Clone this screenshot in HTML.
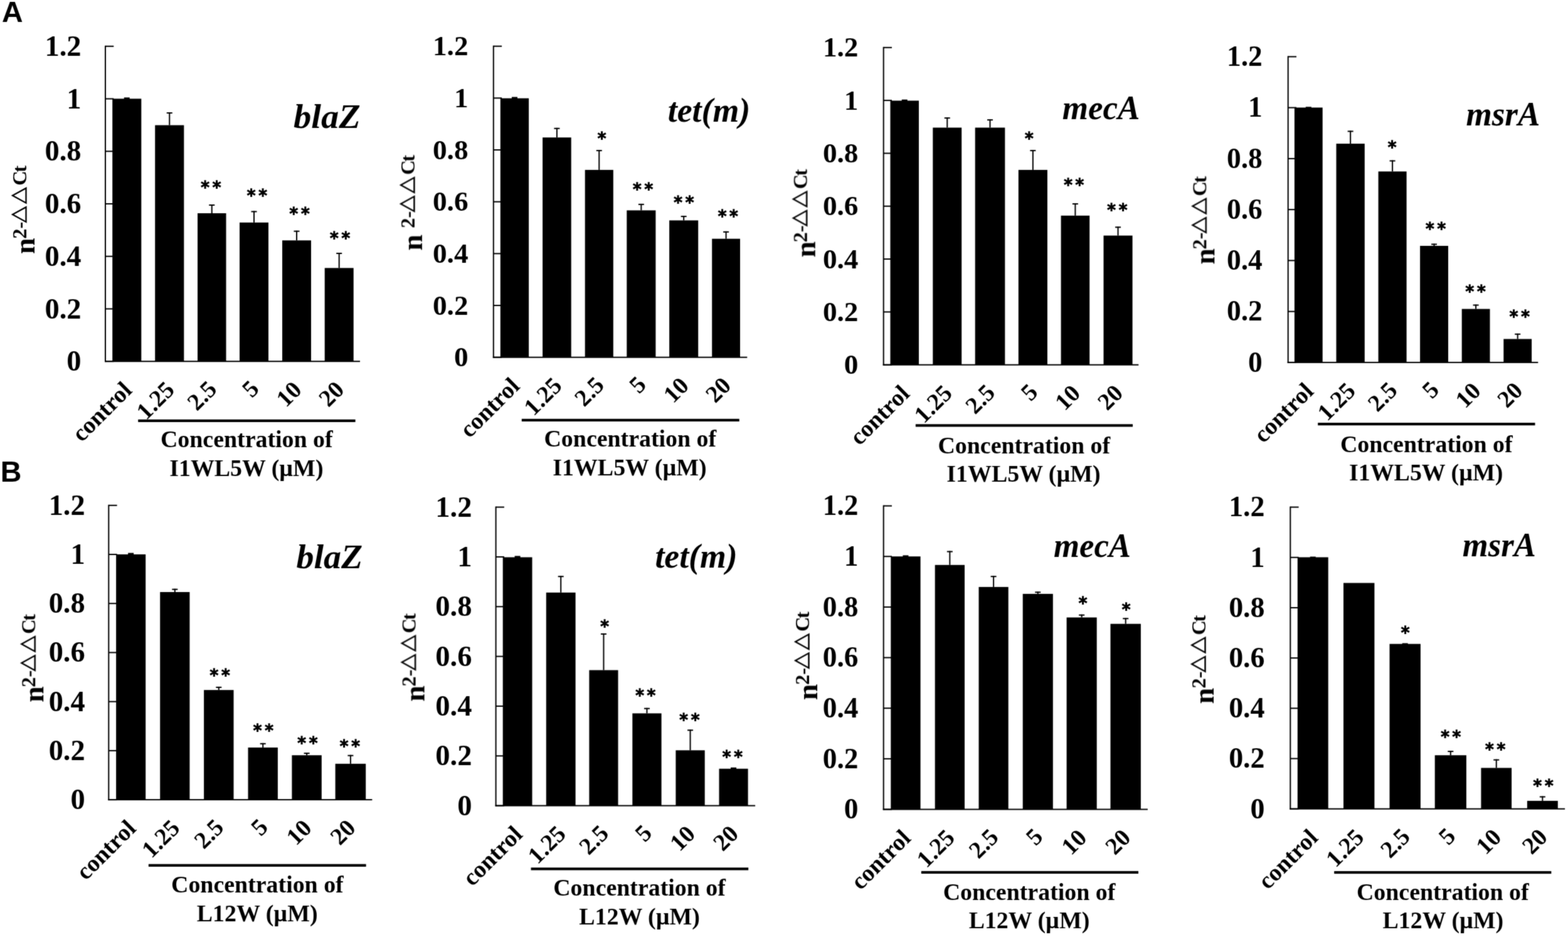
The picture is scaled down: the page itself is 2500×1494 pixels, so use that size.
<!DOCTYPE html>
<html><head><meta charset="utf-8"><title>Figure</title><style>
html,body{margin:0;padding:0;background:#fff;}
svg{display:block;}
text{font-family:'Liberation Serif','Times New Roman',serif;font-weight:bold;fill:#000;}
.tl{font-size:46px;text-anchor:end;}
.gn{font-size:54px;font-style:italic;}
.as{font-family:'DejaVu Sans',sans-serif;font-weight:normal;font-size:27.3px;letter-spacing:4.8px;stroke:#000;stroke-width:1.5px;text-anchor:middle;}
.xl{font-size:38.2px;text-anchor:end;}
.bl{font-size:37.9px;text-anchor:middle;}
.yl{font-size:46px;}
.sp{font-size:32.5px;}
.tri{font-family:'Liberation Serif','Noto Sans CJK JP',sans-serif;font-weight:normal;font-size:27px;letter-spacing:3.2px;stroke:#000;stroke-width:1.35px;}
.pl{font-family:'Liberation Sans',Arial,sans-serif;font-weight:bold;font-size:46.5px;}
</style></head>
<body>
<svg width="2500" height="1494" viewBox="0 0 2500 1494">
<defs><filter id="soft" x="0" y="0" width="2500" height="1494" filterUnits="userSpaceOnUse"><feConvolveMatrix order="3" kernelMatrix="0.25 1 0.25 1 4 1 0.25 1 0.25" edgeMode="none"/></filter></defs>
<rect width="2500" height="1494" fill="#fff"/>
<g filter="url(#soft)">
<text x="3.05" y="35.1" class="pl">A</text>
<text x="0.8" y="768.2" class="pl">B</text>
<g fill="#000">
<rect x="179.2" y="157.4" width="46.1" height="418.8"/>
<rect x="197.75" y="155.4" width="9" height="2.5"/>
<rect x="247.2" y="199.6" width="46.1" height="376.6"/>
<rect x="269.25" y="179.1" width="2" height="20.5"/>
<rect x="265.75" y="179.1" width="9" height="2"/>
<rect x="315" y="340" width="45.5" height="236.2"/>
<rect x="336.75" y="326" width="2" height="14"/>
<rect x="333.25" y="326" width="9" height="2"/>
<rect x="382" y="354.8" width="46" height="221.4"/>
<rect x="404" y="336.4" width="2" height="18.4"/>
<rect x="400.5" y="336.4" width="9" height="2"/>
<rect x="450" y="383.3" width="46" height="192.9"/>
<rect x="472" y="367.7" width="2" height="15.6"/>
<rect x="468.5" y="367.7" width="9" height="2"/>
<rect x="517.7" y="427.3" width="46" height="148.9"/>
<rect x="539.7" y="403" width="2" height="24.3"/>
<rect x="536.2" y="403" width="9" height="2"/>
<rect x="167" y="72.8" width="2" height="504.4"/>
<rect x="167" y="575.2" width="407" height="2"/>
<rect x="168" y="575.2" width="13.3" height="2"/>
<rect x="168" y="491.47" width="13.3" height="2"/>
<rect x="168" y="407.73" width="13.3" height="2"/>
<rect x="168" y="324" width="13.3" height="2"/>
<rect x="168" y="240.27" width="13.3" height="2"/>
<rect x="168" y="156.53" width="13.3" height="2"/>
<rect x="168" y="72.8" width="13.3" height="2"/>
<text x="129.5" y="591.27" class="tl" style="font-size:46.5px">0</text>
<text x="129.5" y="507.53" class="tl" style="font-size:46.5px">0.2</text>
<text x="129.5" y="423.8" class="tl" style="font-size:46.5px">0.4</text>
<text x="129.5" y="340.07" class="tl" style="font-size:46.5px">0.6</text>
<text x="129.5" y="256.33" class="tl" style="font-size:46.5px">0.8</text>
<text x="129.5" y="172.6" class="tl" style="font-size:46.5px">1</text>
<text x="129.5" y="88.87" class="tl" style="font-size:46.5px">1.2</text>
<text transform="translate(467.97,203.8) scale(1.0460,1)" class="gn" style="font-size:54px">blaZ</text>
<text x="338.8" y="308.06" class="as">**</text>
<text x="412.3" y="320.66" class="as">**</text>
<text x="479.9" y="350.06" class="as">**</text>
<text x="544.5" y="389.06" class="as">**</text>
<text transform="translate(212.25,624.2) rotate(-45)" class="xl">control</text>
<text transform="translate(280.25,623.7) rotate(-45)" class="xl">1.25</text>
<text transform="translate(347.75,622.7) rotate(-45)" class="xl">2.5</text>
<text transform="translate(415,622) rotate(-45)" class="xl">5</text>
<text transform="translate(483,623.7) rotate(-45)" class="xl">10</text>
<text transform="translate(550.7,623.4) rotate(-45)" class="xl">20</text>
<rect x="220.2" y="668.8" width="346.4" height="4.2"/>
<text x="393.3" y="713.2" class="bl">Concentration of</text>
<text x="392.85" y="759" class="bl">I1WL5W (µM)</text>
<text transform="translate(54.8,404.94) rotate(-90)" class="yl">n<tspan x="24.18" dy="-13" class="sp">2-</tspan><tspan x="49.38" class="tri">△△</tspan><tspan x="109.18" class="sp">C</tspan><tspan x="130.18" class="sp">t</tspan></text>
<rect x="797.8" y="156.7" width="45.3" height="413"/>
<rect x="815.95" y="154.6" width="9" height="2.6"/>
<rect x="865.1" y="219.2" width="45.6" height="350.5"/>
<rect x="886.9" y="203.8" width="2" height="15.4"/>
<rect x="883.4" y="203.8" width="9" height="2"/>
<rect x="932.7" y="270.9" width="45.1" height="298.8"/>
<rect x="954.25" y="239.1" width="2" height="31.8"/>
<rect x="950.75" y="239.1" width="9" height="2"/>
<rect x="999.3" y="335.4" width="46.1" height="234.3"/>
<rect x="1021.35" y="324.9" width="2" height="10.5"/>
<rect x="1017.85" y="324.9" width="9" height="2"/>
<rect x="1067.1" y="351.4" width="46.1" height="218.3"/>
<rect x="1089.15" y="344.1" width="2" height="7.3"/>
<rect x="1085.65" y="344.1" width="9" height="2"/>
<rect x="1135.2" y="380.7" width="44.8" height="189"/>
<rect x="1156.6" y="368.8" width="2" height="11.9"/>
<rect x="1153.1" y="368.8" width="9" height="2"/>
<rect x="785.8" y="72.7" width="2" height="498"/>
<rect x="785.8" y="568.7" width="405.5" height="2"/>
<rect x="786.8" y="568.7" width="13.3" height="2"/>
<rect x="786.8" y="486.03" width="13.3" height="2"/>
<rect x="786.8" y="403.37" width="13.3" height="2"/>
<rect x="786.8" y="320.7" width="13.3" height="2"/>
<rect x="786.8" y="238.03" width="13.3" height="2"/>
<rect x="786.8" y="155.37" width="13.3" height="2"/>
<rect x="786.8" y="72.7" width="13.3" height="2"/>
<text x="746.6" y="584.38" class="tl" style="font-size:45.3px">0</text>
<text x="746.6" y="501.71" class="tl" style="font-size:45.3px">0.2</text>
<text x="746.6" y="419.04" class="tl" style="font-size:45.3px">0.4</text>
<text x="746.6" y="336.38" class="tl" style="font-size:45.3px">0.6</text>
<text x="746.6" y="253.71" class="tl" style="font-size:45.3px">0.8</text>
<text x="746.6" y="171.04" class="tl" style="font-size:45.3px">1</text>
<text x="746.6" y="88.38" class="tl" style="font-size:45.3px">1.2</text>
<text transform="translate(1064.68,193.6) scale(0.9973,1)" class="gn" style="font-size:54px">tet(m)</text>
<text x="961.9" y="229.76" class="as">*</text>
<text x="1027.4" y="310.96" class="as">**</text>
<text x="1092.7" y="332.16" class="as">**</text>
<text x="1163.1" y="353.96" class="as">**</text>
<text transform="translate(830.45,617.7) rotate(-45)" class="xl">control</text>
<text transform="translate(897.9,617.2) rotate(-45)" class="xl">1.25</text>
<text transform="translate(965.25,616.2) rotate(-45)" class="xl">2.5</text>
<text transform="translate(1032.35,615.5) rotate(-45)" class="xl">5</text>
<text transform="translate(1100.15,617.2) rotate(-45)" class="xl">10</text>
<text transform="translate(1167.6,616.9) rotate(-45)" class="xl">20</text>
<rect x="831.8" y="667.8" width="346.9" height="4.2"/>
<text x="1004.85" y="712.4" class="bl">Concentration of</text>
<text x="1003.95" y="758.1" class="bl">I1WL5W (µM)</text>
<text transform="translate(672.9,399.54) rotate(-90)" class="yl">n<tspan x="35.68" dy="-12.5" class="sp">2-</tspan><tspan x="60.88" class="tri">△△</tspan><tspan x="120.68" class="sp">C</tspan><tspan x="141.68" class="sp">t</tspan></text>
<rect x="1419.5" y="160.5" width="45.5" height="421.2"/>
<rect x="1437.75" y="158.7" width="9" height="2.5"/>
<rect x="1487.3" y="203.5" width="45.9" height="378.2"/>
<rect x="1509.25" y="187.2" width="2" height="16.3"/>
<rect x="1505.75" y="187.2" width="9" height="2"/>
<rect x="1554.7" y="203.5" width="47.6" height="378.2"/>
<rect x="1577.5" y="190.2" width="2" height="13.3"/>
<rect x="1574" y="190.2" width="9" height="2"/>
<rect x="1623.8" y="270.9" width="46.1" height="310.8"/>
<rect x="1645.85" y="239.1" width="2" height="31.8"/>
<rect x="1642.35" y="239.1" width="9" height="2"/>
<rect x="1691.6" y="343.8" width="45.6" height="237.9"/>
<rect x="1713.4" y="324.1" width="2" height="19.7"/>
<rect x="1709.9" y="324.1" width="9" height="2"/>
<rect x="1759.5" y="375.6" width="46.1" height="206.1"/>
<rect x="1781.55" y="361.3" width="2" height="14.3"/>
<rect x="1778.05" y="361.3" width="9" height="2"/>
<rect x="1407.7" y="74.8" width="2" height="507.9"/>
<rect x="1407.7" y="580.7" width="407.6" height="2"/>
<rect x="1408.7" y="580.7" width="13.3" height="2"/>
<rect x="1408.7" y="496.38" width="13.3" height="2"/>
<rect x="1408.7" y="412.07" width="13.3" height="2"/>
<rect x="1408.7" y="327.75" width="13.3" height="2"/>
<rect x="1408.7" y="243.43" width="13.3" height="2"/>
<rect x="1408.7" y="159.12" width="13.3" height="2"/>
<rect x="1408.7" y="74.8" width="13.3" height="2"/>
<text x="1368.5" y="596.38" class="tl" style="font-size:45.3px">0</text>
<text x="1368.5" y="512.06" class="tl" style="font-size:45.3px">0.2</text>
<text x="1368.5" y="427.74" class="tl" style="font-size:45.3px">0.4</text>
<text x="1368.5" y="343.43" class="tl" style="font-size:45.3px">0.6</text>
<text x="1368.5" y="259.11" class="tl" style="font-size:45.3px">0.8</text>
<text x="1368.5" y="174.79" class="tl" style="font-size:45.3px">1</text>
<text x="1368.5" y="90.48" class="tl" style="font-size:45.3px">1.2</text>
<text transform="translate(1693.79,190.1) scale(0.9641,1)" class="gn" style="font-size:55px">mecA</text>
<text x="1643.2" y="229.76" class="as">*</text>
<text x="1714.6" y="303.56" class="as">**</text>
<text x="1783.7" y="343.76" class="as">**</text>
<text transform="translate(1452.25,629.7) rotate(-45)" class="xl">control</text>
<text transform="translate(1520.25,629.2) rotate(-45)" class="xl">1.25</text>
<text transform="translate(1588.5,628.2) rotate(-45)" class="xl">2.5</text>
<text transform="translate(1656.85,627.5) rotate(-45)" class="xl">5</text>
<text transform="translate(1724.4,629.2) rotate(-45)" class="xl">10</text>
<text transform="translate(1792.55,628.9) rotate(-45)" class="xl">20</text>
<rect x="1459.85" y="676.3" width="346.2" height="4.2"/>
<text x="1632.8" y="722.7" class="bl">Concentration of</text>
<text x="1632" y="768.15" class="bl">I1WL5W (µM)</text>
<text transform="translate(1299.7,410.44) rotate(-90)" class="yl">n<tspan x="24.08" dy="-13.3" class="sp">2-</tspan><tspan x="49.28" class="tri">△△</tspan><tspan x="109.08" class="sp">C</tspan><tspan x="130.08" class="sp">t</tspan></text>
<rect x="2063.9" y="171.5" width="44.8" height="406.4"/>
<rect x="2081.8" y="170.3" width="9" height="2.5"/>
<rect x="2130.5" y="229.1" width="45.3" height="348.8"/>
<rect x="2152.15" y="208.4" width="2" height="20.7"/>
<rect x="2148.65" y="208.4" width="9" height="2"/>
<rect x="2197.6" y="273.4" width="45" height="304.5"/>
<rect x="2219.1" y="255.5" width="2" height="17.9"/>
<rect x="2215.6" y="255.5" width="9" height="2"/>
<rect x="2264.1" y="392" width="44.9" height="185.9"/>
<rect x="2285.55" y="388.5" width="2" height="3.5"/>
<rect x="2282.05" y="388.5" width="9" height="2"/>
<rect x="2330.7" y="492.6" width="44.8" height="85.3"/>
<rect x="2352.1" y="485.5" width="2" height="7.1"/>
<rect x="2348.6" y="485.5" width="9" height="2"/>
<rect x="2397.3" y="540.5" width="44.8" height="37.4"/>
<rect x="2418.7" y="531.8" width="2" height="8.7"/>
<rect x="2415.2" y="531.8" width="9" height="2"/>
<rect x="2052.7" y="89.4" width="2" height="489.5"/>
<rect x="2052.7" y="576.9" width="399.6" height="2"/>
<rect x="2053.7" y="576.9" width="13.3" height="2"/>
<rect x="2053.7" y="495.65" width="13.3" height="2"/>
<rect x="2053.7" y="414.4" width="13.3" height="2"/>
<rect x="2053.7" y="333.15" width="13.3" height="2"/>
<rect x="2053.7" y="251.9" width="13.3" height="2"/>
<rect x="2053.7" y="170.65" width="13.3" height="2"/>
<rect x="2053.7" y="89.4" width="13.3" height="2"/>
<text x="2012.7" y="592.61" class="tl" style="font-size:45.4px">0</text>
<text x="2012.7" y="511.36" class="tl" style="font-size:45.4px">0.2</text>
<text x="2012.7" y="430.11" class="tl" style="font-size:45.4px">0.4</text>
<text x="2012.7" y="348.86" class="tl" style="font-size:45.4px">0.6</text>
<text x="2012.7" y="267.61" class="tl" style="font-size:45.4px">0.8</text>
<text x="2012.7" y="186.36" class="tl" style="font-size:45.4px">1</text>
<text x="2012.7" y="105.11" class="tl" style="font-size:45.4px">1.2</text>
<text transform="translate(2337.39,200.4) scale(0.9650,1)" class="gn" style="font-size:55px">msrA</text>
<text x="2222" y="243.86" class="as">*</text>
<text x="2291.5" y="373.66" class="as">**</text>
<text x="2354.9" y="474.06" class="as">**</text>
<text x="2425.3" y="513.76" class="as">**</text>
<text transform="translate(2096.3,625.9) rotate(-45)" class="xl">control</text>
<text transform="translate(2163.15,625.4) rotate(-45)" class="xl">1.25</text>
<text transform="translate(2230.1,624.4) rotate(-45)" class="xl">2.5</text>
<text transform="translate(2296.55,623.7) rotate(-45)" class="xl">5</text>
<text transform="translate(2363.1,625.4) rotate(-45)" class="xl">10</text>
<text transform="translate(2429.7,625.1) rotate(-45)" class="xl">20</text>
<rect x="2101.2" y="674.05" width="346.3" height="4.2"/>
<text x="2274.25" y="720.65" class="bl">Concentration of</text>
<text x="2273.7" y="765.85" class="bl">I1WL5W (µM)</text>
<text transform="translate(1936.3,421.64) rotate(-90)" class="yl">n<tspan x="24.08" dy="-13" class="sp">2-</tspan><tspan x="49.28" class="tri">△△</tspan><tspan x="109.08" class="sp">C</tspan><tspan x="130.08" class="sp">t</tspan></text>
<rect x="185.1" y="883.9" width="47.1" height="391.2"/>
<rect x="204.15" y="881.6" width="9" height="2.8"/>
<rect x="255.2" y="944" width="47.2" height="331.1"/>
<rect x="277.8" y="938.7" width="2" height="5.3"/>
<rect x="274.3" y="938.7" width="9" height="2"/>
<rect x="325.1" y="1100.2" width="47.4" height="174.9"/>
<rect x="347.8" y="1094.9" width="2" height="5.3"/>
<rect x="344.3" y="1094.9" width="9" height="2"/>
<rect x="395.5" y="1191.9" width="47.4" height="83.2"/>
<rect x="418.2" y="1184.8" width="2" height="7.1"/>
<rect x="414.7" y="1184.8" width="9" height="2"/>
<rect x="465.4" y="1204.2" width="47.4" height="70.9"/>
<rect x="488.1" y="1200.1" width="2" height="4.1"/>
<rect x="484.6" y="1200.1" width="9" height="2"/>
<rect x="534.6" y="1217.8" width="48.6" height="57.3"/>
<rect x="557.9" y="1203.7" width="2" height="14.1"/>
<rect x="554.4" y="1203.7" width="9" height="2"/>
<rect x="172.3" y="804.8" width="2" height="471.3"/>
<rect x="172.3" y="1274.1" width="421.1" height="2"/>
<rect x="173.3" y="1274.1" width="13.3" height="2"/>
<rect x="173.3" y="1195.88" width="13.3" height="2"/>
<rect x="173.3" y="1117.67" width="13.3" height="2"/>
<rect x="173.3" y="1039.45" width="13.3" height="2"/>
<rect x="173.3" y="961.23" width="13.3" height="2"/>
<rect x="173.3" y="883.02" width="13.3" height="2"/>
<rect x="173.3" y="804.8" width="13.3" height="2"/>
<text x="135.6" y="1290.1" class="tl" style="font-size:46.3px">0</text>
<text x="135.6" y="1211.88" class="tl" style="font-size:46.3px">0.2</text>
<text x="135.6" y="1133.67" class="tl" style="font-size:46.3px">0.4</text>
<text x="135.6" y="1055.45" class="tl" style="font-size:46.3px">0.6</text>
<text x="135.6" y="977.23" class="tl" style="font-size:46.3px">0.8</text>
<text x="135.6" y="899.02" class="tl" style="font-size:46.3px">1</text>
<text x="135.6" y="820.8" class="tl" style="font-size:46.3px">1.2</text>
<text transform="translate(472.47,905.9) scale(1.0370,1)" class="gn" style="font-size:54px">blaZ</text>
<text x="353" y="1085.56" class="as">**</text>
<text x="422.3" y="1173.86" class="as">**</text>
<text x="492.7" y="1193.86" class="as">**</text>
<text x="560.3" y="1198.96" class="as">**</text>
<text transform="translate(218.65,1323.1) rotate(-45)" class="xl">control</text>
<text transform="translate(288.8,1322.6) rotate(-45)" class="xl">1.25</text>
<text transform="translate(358.8,1321.6) rotate(-45)" class="xl">2.5</text>
<text transform="translate(429.2,1320.9) rotate(-45)" class="xl">5</text>
<text transform="translate(499.1,1322.6) rotate(-45)" class="xl">10</text>
<text transform="translate(568.9,1322.3) rotate(-45)" class="xl">20</text>
<rect x="236.85" y="1377.7" width="346.75" height="4.2"/>
<text x="410.4" y="1423.45" class="bl">Concentration of</text>
<text x="410.2" y="1468.75" class="bl">L12W (µM)</text>
<text transform="translate(69.2,1119.84) rotate(-90)" class="yl">n<tspan x="24.08" dy="-12.8" class="sp">2-</tspan><tspan x="49.28" class="tri">△△</tspan><tspan x="109.08" class="sp">C</tspan><tspan x="130.08" class="sp">t</tspan></text>
<rect x="801.7" y="888.5" width="46.8" height="396.1"/>
<rect x="820.6" y="886.4" width="9" height="2.6"/>
<rect x="870.8" y="944.8" width="46.8" height="339.8"/>
<rect x="893.2" y="918.2" width="2" height="26.6"/>
<rect x="889.7" y="918.2" width="9" height="2"/>
<rect x="939.4" y="1068.5" width="46.1" height="216.1"/>
<rect x="961.45" y="1009.9" width="2" height="58.6"/>
<rect x="957.95" y="1009.9" width="9" height="2"/>
<rect x="1008.3" y="1137.4" width="46.3" height="147.2"/>
<rect x="1030.45" y="1128.7" width="2" height="8.7"/>
<rect x="1026.95" y="1128.7" width="9" height="2"/>
<rect x="1077.4" y="1196.3" width="46.3" height="88.3"/>
<rect x="1099.55" y="1163.3" width="2" height="33"/>
<rect x="1096.05" y="1163.3" width="9" height="2"/>
<rect x="1146.5" y="1225.7" width="46.1" height="58.9"/>
<rect x="1165.05" y="1223.7" width="9" height="2.5"/>
<rect x="789.6" y="807.6" width="2" height="478"/>
<rect x="789.6" y="1283.6" width="414.5" height="2"/>
<rect x="790.6" y="1283.6" width="13.3" height="2"/>
<rect x="790.6" y="1204.27" width="13.3" height="2"/>
<rect x="790.6" y="1124.93" width="13.3" height="2"/>
<rect x="790.6" y="1045.6" width="13.3" height="2"/>
<rect x="790.6" y="966.27" width="13.3" height="2"/>
<rect x="790.6" y="886.93" width="13.3" height="2"/>
<rect x="790.6" y="807.6" width="13.3" height="2"/>
<text x="752.4" y="1299.67" class="tl" style="font-size:46.5px">0</text>
<text x="752.4" y="1220.33" class="tl" style="font-size:46.5px">0.2</text>
<text x="752.4" y="1141" class="tl" style="font-size:46.5px">0.4</text>
<text x="752.4" y="1061.67" class="tl" style="font-size:46.5px">0.6</text>
<text x="752.4" y="982.33" class="tl" style="font-size:46.5px">0.8</text>
<text x="752.4" y="903" class="tl" style="font-size:46.5px">1</text>
<text x="752.4" y="823.67" class="tl" style="font-size:46.5px">1.2</text>
<text transform="translate(1044.39,904.8) scale(0.9949,1)" class="gn" style="font-size:54px">tet(m)</text>
<text x="966.4" y="1008.16" class="as">*</text>
<text x="1031.6" y="1118.26" class="as">**</text>
<text x="1101.8" y="1157.26" class="as">**</text>
<text x="1170.2" y="1215.66" class="as">**</text>
<text transform="translate(835.1,1332.6) rotate(-45)" class="xl">control</text>
<text transform="translate(904.2,1332.1) rotate(-45)" class="xl">1.25</text>
<text transform="translate(972.45,1331.1) rotate(-45)" class="xl">2.5</text>
<text transform="translate(1041.45,1330.4) rotate(-45)" class="xl">5</text>
<text transform="translate(1110.55,1332.1) rotate(-45)" class="xl">10</text>
<text transform="translate(1179.55,1331.8) rotate(-45)" class="xl">20</text>
<rect x="846.55" y="1383.3" width="346.65" height="4.2"/>
<text x="1019.6" y="1428.25" class="bl">Concentration of</text>
<text x="1019.6" y="1473.8" class="bl">L12W (µM)</text>
<text transform="translate(676.6,1118.64) rotate(-90)" class="yl">n<tspan x="24.08" dy="-13.7" class="sp">2-</tspan><tspan x="49.28" class="tri">△△</tspan><tspan x="109.08" class="sp">C</tspan><tspan x="130.08" class="sp">t</tspan></text>
<rect x="1420.3" y="887.2" width="47.3" height="403.3"/>
<rect x="1439.45" y="885.4" width="9" height="2.5"/>
<rect x="1490.7" y="900.8" width="47.3" height="389.7"/>
<rect x="1513.35" y="878.5" width="2" height="22.3"/>
<rect x="1509.85" y="878.5" width="9" height="2"/>
<rect x="1560.5" y="935.9" width="47.2" height="354.6"/>
<rect x="1583.1" y="918.2" width="2" height="17.7"/>
<rect x="1579.6" y="918.2" width="9" height="2"/>
<rect x="1630.7" y="946.9" width="48.1" height="343.6"/>
<rect x="1653.75" y="943.3" width="2" height="3.6"/>
<rect x="1650.25" y="943.3" width="9" height="2"/>
<rect x="1700.6" y="984.5" width="48.1" height="306"/>
<rect x="1723.65" y="979.7" width="2" height="4.8"/>
<rect x="1720.15" y="979.7" width="9" height="2"/>
<rect x="1770.5" y="994.7" width="48.4" height="295.8"/>
<rect x="1793.7" y="985.3" width="2" height="9.4"/>
<rect x="1790.2" y="985.3" width="9" height="2"/>
<rect x="1407.7" y="805.6" width="2" height="485.9"/>
<rect x="1407.7" y="1289.5" width="422.2" height="2"/>
<rect x="1408.7" y="1289.5" width="13.3" height="2"/>
<rect x="1408.7" y="1208.85" width="13.3" height="2"/>
<rect x="1408.7" y="1128.2" width="13.3" height="2"/>
<rect x="1408.7" y="1047.55" width="13.3" height="2"/>
<rect x="1408.7" y="966.9" width="13.3" height="2"/>
<rect x="1408.7" y="886.25" width="13.3" height="2"/>
<rect x="1408.7" y="805.6" width="13.3" height="2"/>
<text x="1368.5" y="1305.21" class="tl" style="font-size:45.4px">0</text>
<text x="1368.5" y="1224.56" class="tl" style="font-size:45.4px">0.2</text>
<text x="1368.5" y="1143.91" class="tl" style="font-size:45.4px">0.4</text>
<text x="1368.5" y="1063.26" class="tl" style="font-size:45.4px">0.6</text>
<text x="1368.5" y="982.61" class="tl" style="font-size:45.4px">0.8</text>
<text x="1368.5" y="901.96" class="tl" style="font-size:45.4px">1</text>
<text x="1368.5" y="821.31" class="tl" style="font-size:45.4px">1.2</text>
<text transform="translate(1680,888) scale(0.9593,1)" class="gn" style="font-size:55px">mecA</text>
<text x="1729" y="971.06" class="as">*</text>
<text x="1798.1" y="980.56" class="as">*</text>
<text transform="translate(1453.95,1338.5) rotate(-45)" class="xl">control</text>
<text transform="translate(1524.35,1338) rotate(-45)" class="xl">1.25</text>
<text transform="translate(1594.1,1337) rotate(-45)" class="xl">2.5</text>
<text transform="translate(1664.75,1336.3) rotate(-45)" class="xl">5</text>
<text transform="translate(1734.65,1338) rotate(-45)" class="xl">10</text>
<text transform="translate(1804.7,1337.7) rotate(-45)" class="xl">20</text>
<rect x="1468.85" y="1388.85" width="346.15" height="4.2"/>
<text x="1641" y="1435.05" class="bl">Concentration of</text>
<text x="1641" y="1480.1" class="bl">L12W (µM)</text>
<text transform="translate(1303,1116.24) rotate(-90)" class="yl">n<tspan x="24.18" dy="-13" class="sp">2-</tspan><tspan x="49.38" class="tri">△△</tspan><tspan x="109.18" class="sp">C</tspan><tspan x="130.18" class="sp">t</tspan></text>
<rect x="2068.8" y="888.5" width="48.9" height="401.2"/>
<rect x="2088.75" y="887.5" width="9" height="2.5"/>
<rect x="2142" y="929.5" width="49.4" height="360.2"/>
<rect x="2215.5" y="1026.7" width="49.4" height="263"/>
<rect x="2235.7" y="1025.5" width="9" height="2.5"/>
<rect x="2287.7" y="1204.2" width="50.2" height="85.5"/>
<rect x="2311.8" y="1197.1" width="2" height="7.1"/>
<rect x="2308.3" y="1197.1" width="9" height="2"/>
<rect x="2361.4" y="1224.4" width="48.7" height="65.3"/>
<rect x="2384.75" y="1210.6" width="2" height="13.8"/>
<rect x="2381.25" y="1210.6" width="9" height="2"/>
<rect x="2434.9" y="1276.9" width="48.9" height="12.8"/>
<rect x="2458.35" y="1269.5" width="2" height="7.4"/>
<rect x="2454.85" y="1269.5" width="9" height="2"/>
<rect x="2056.3" y="807.6" width="2" height="483.1"/>
<rect x="2056.3" y="1288.7" width="438.8" height="2"/>
<rect x="2057.3" y="1288.7" width="13.3" height="2"/>
<rect x="2057.3" y="1208.52" width="13.3" height="2"/>
<rect x="2057.3" y="1128.33" width="13.3" height="2"/>
<rect x="2057.3" y="1048.15" width="13.3" height="2"/>
<rect x="2057.3" y="967.97" width="13.3" height="2"/>
<rect x="2057.3" y="887.78" width="13.3" height="2"/>
<rect x="2057.3" y="807.6" width="13.3" height="2"/>
<text x="2016.5" y="1304.57" class="tl" style="font-size:45.9px">0</text>
<text x="2016.5" y="1224.39" class="tl" style="font-size:45.9px">0.2</text>
<text x="2016.5" y="1144.2" class="tl" style="font-size:45.9px">0.4</text>
<text x="2016.5" y="1064.02" class="tl" style="font-size:45.9px">0.6</text>
<text x="2016.5" y="983.84" class="tl" style="font-size:45.9px">0.8</text>
<text x="2016.5" y="903.65" class="tl" style="font-size:45.9px">1</text>
<text x="2016.5" y="823.47" class="tl" style="font-size:45.9px">1.2</text>
<text transform="translate(2331.8,886.8) scale(0.9566,1)" class="gn" style="font-size:55px">msrA</text>
<text x="2243.1" y="1017.96" class="as">*</text>
<text x="2315.6" y="1183.66" class="as">**</text>
<text x="2386.5" y="1203.56" class="as">**</text>
<text x="2463" y="1262.46" class="as">**</text>
<text transform="translate(2103.25,1337.7) rotate(-45)" class="xl">control</text>
<text transform="translate(2176.7,1337.2) rotate(-45)" class="xl">1.25</text>
<text transform="translate(2250.2,1336.2) rotate(-45)" class="xl">2.5</text>
<text transform="translate(2322.8,1335.5) rotate(-45)" class="xl">5</text>
<text transform="translate(2395.75,1337.2) rotate(-45)" class="xl">10</text>
<text transform="translate(2469.35,1336.9) rotate(-45)" class="xl">20</text>
<rect x="2127.2" y="1388.95" width="346.15" height="4.2"/>
<text x="2300.3" y="1435.05" class="bl">Concentration of</text>
<text x="2300.9" y="1480.35" class="bl">L12W (µM)</text>
<text transform="translate(1935,1122.34) rotate(-90)" class="yl">n<tspan x="24.78" dy="-13.3" class="sp">2-</tspan><tspan x="49.98" class="tri">△△</tspan><tspan x="109.78" class="sp">C</tspan><tspan x="130.78" class="sp">t</tspan></text>
</g>
</g>
</svg>
</body></html>
